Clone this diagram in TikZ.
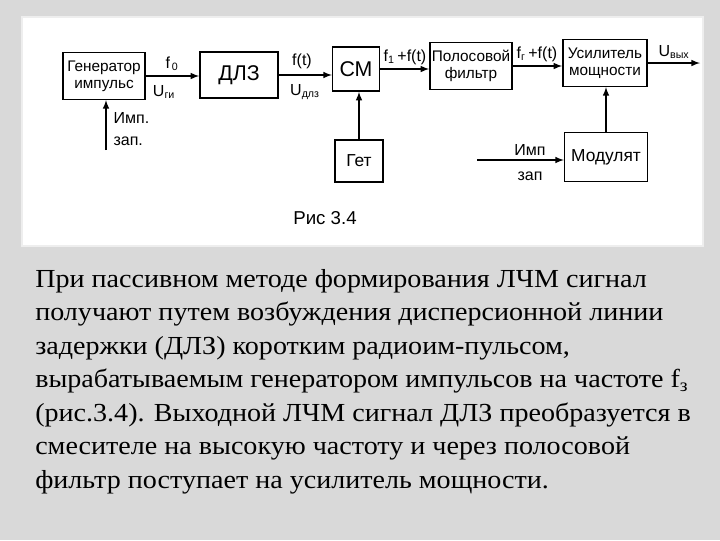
\documentclass[tikz,border=0pt]{standalone}
\usepackage{fontspec}
\setmainfont[FakeStretch=1.08]{Liberation Serif}
\newfontfamily\schemefont{Liberation Sans}
\definecolor{slidegray}{HTML}{D9D9D9}
\definecolor{panelrim}{HTML}{EEEEEE}
\begin{document}
\begin{tikzpicture}[
    x=0.75pt,
    y=-0.75pt,
    block/.style={
        draw,
        line width=1.2pt,
        align=center,
        inner sep=1pt,
        font=\schemefont\fontsize{11.5}{13}\selectfont
    },
    sig/.style={
        inner sep=1pt,
        align=left,
        font=\schemefont\fontsize{12}{17}\selectfont
    },
    link/.style={draw, line width=1.2pt, -latex}
]
\fill[slidegray] (0,0) rectangle (720,540);
\filldraw[fill=white, draw=panelrim, line width=1.5pt] (22,17) rectangle (703,246);

\node[block, minimum width=61.5pt, minimum height=35pt] (gen) at (104,76) {Генератор\\импульс};
\node[block, minimum width=58.5pt, minimum height=34.5pt,
      font=\schemefont\fontsize{16}{18}\selectfont] (dlz) at (239,75) {ДЛЗ};
\node[block, minimum width=35pt, minimum height=33pt,
      font=\schemefont\fontsize{16}{18}\selectfont] (sm) at (356,69) {СМ};
\node[block, minimum width=61.5pt, minimum height=35pt] (filt) at (471,66) {Полосовой\\фильтр};
\node[block, minimum width=63pt, minimum height=35pt] (usil) at (605,63) {Усилитель\\мощности};
\node[block, minimum width=36pt, minimum height=31.5pt,
      font=\schemefont\fontsize{13}{15}\selectfont] (get) at (359,161) {Гет};
\node[block, minimum width=62pt, minimum height=36.5pt,
      font=\schemefont\fontsize{13}{15}\selectfont] (mod) at (606,157) {Модулят};

\coordinate (uout) at (700,63);
\coordinate (gin) at (106,150);
\coordinate (modin) at (477,160);

\draw[link] (gen.east) -- (gen.east -| dlz.west);
\draw[link] (dlz.east) -- (dlz.east -| sm.west);
\draw[link] (sm.east) -- (sm.east -| filt.west);
\draw[link] (filt.east) -- (filt.east -| usil.west);
\draw[link] (usil.east) -- (uout);
\draw[link] (gin) -- (gin |- gen.south);
\draw[link] (get.north) -- (get.north |- sm.south);
\draw[link] (mod.north) -- (mod.north |- usil.south);
\draw[link] (modin) -- (modin -| mod.west);

\node[sig] (f0) at (172,64) {f\textsubscript{\,0}};
\node[sig] (ugi) at (164,92) {U\textsubscript{ги}};
\node[sig] (ft) at (302,61) {f(t)};
\node[sig] (udlz) at (305,92) {U\textsubscript{длз}};
\node[sig] (f1) at (405,57) {f\textsubscript{1}\,+f(t)};
\node[sig] (fg) at (537,54) {f\textsubscript{г}\,+f(t)};
\node[sig] (uvyh) at (674,52) {U\textsubscript{вых}};
\node[sig, anchor=west] (impgen) at (112,129) {Имп.\\зап.};
\node[sig] (impmod) at (530,150) {Имп};
\node[sig] (zapmod) at (530,176) {зап};
\node[font=\schemefont\fontsize{14}{16}\selectfont] (cap) at (325,218) {Рис 3.4};

\node[anchor=base west, align=left, inner sep=0pt,
      font=\fontsize{19.5}{25.1}\selectfont] (para) at (35,488)
    {При пассивном методе формирования ЛЧМ сигнал\\
     получают путем возбуждения дисперсионной линии\\
     задержки (ДЛЗ) коротким радиоим-пульсом,\\
     вырабатываемым генератором импульсов на частоте f\textsubscript{з}\\
     (рис.3.4). Выходной ЛЧМ сигнал ДЛЗ преобразуется в\\
     смесителе на высокую частоту и через полосовой\\
     фильтр поступает на усилитель мощности.};
\end{tikzpicture}
\end{document}
